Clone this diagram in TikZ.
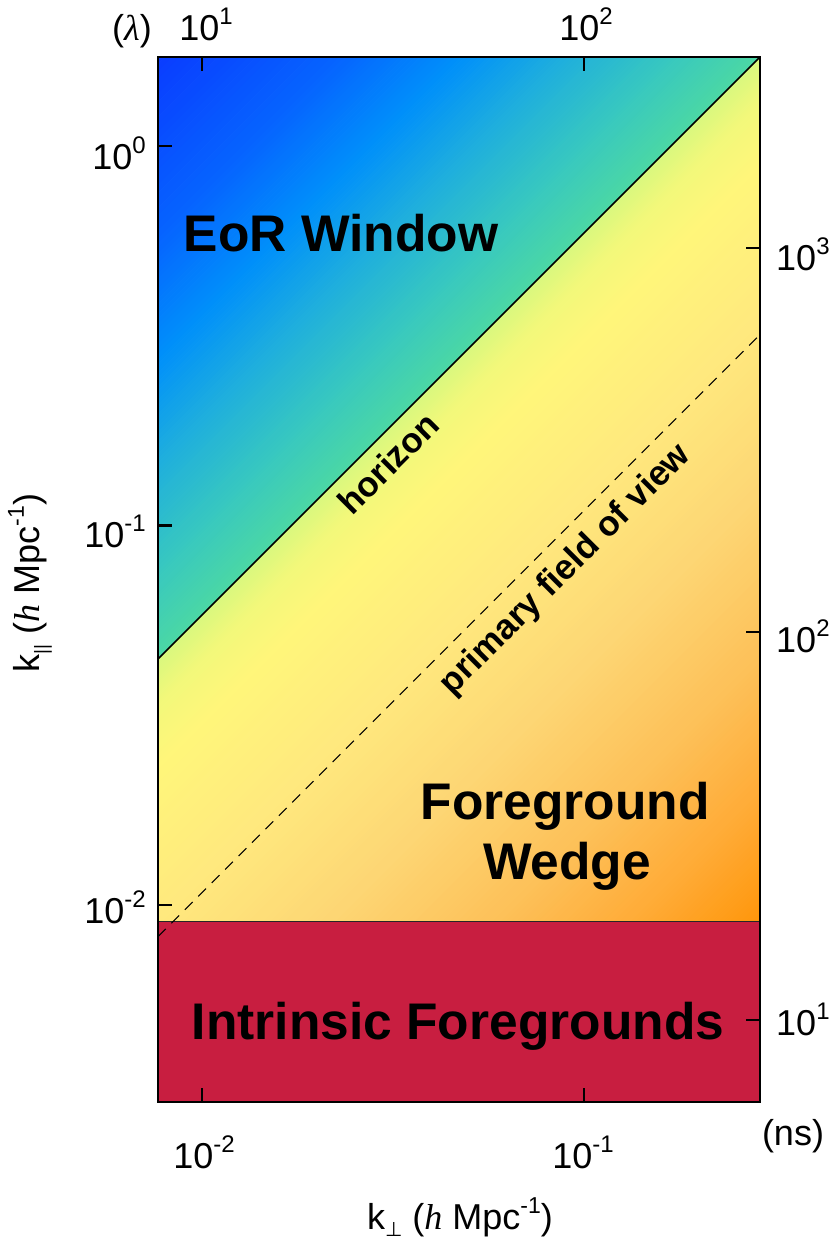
\documentclass[tikz,border=0pt]{standalone}
\usepackage{fontspec}
\setmainfont{Liberation Sans}
\newfontfamily\timesf{Liberation Serif}
\newfontfamily\dejavuf{DejaVu Sans}
\definecolor{redband}{HTML}{C81E40}
\definecolor{eA}{HTML}{0A3CFF}
\definecolor{eB}{HTML}{0664FF}
\definecolor{eC}{HTML}{0090FA}
\definecolor{eD}{HTML}{20B0DC}
\definecolor{eE}{HTML}{38C8C0}
\definecolor{eF}{HTML}{4CD8A4}
\definecolor{wA}{HTML}{D8F87E}
\definecolor{wB}{HTML}{F2F87A}
\definecolor{wC}{HTML}{FFF67A}
\definecolor{wD}{HTML}{FFE97E}
\definecolor{wE}{HTML}{FDD674}
\definecolor{wF}{HTML}{FDC058}
\definecolor{wG}{HTML}{FFAC38}
\definecolor{wH}{HTML}{FF960A}
\newcommand{\gseg}[4]{%
  \foreach \gi in {0,...,23}{%
    \pgfmathsetmacro{\gca}{#1+(#2-#1)*\gi/24}%
    \pgfmathsetmacro{\gcb}{#1+(#2-#1)*(\gi+1)/24+0.8}%
    \pgfmathtruncatemacro{\gpp}{100*(\gi+0.5)/24}%
    \colorlet{stripc}{#4!\gpp!#3}%
    \fill[stripc] ({\gca+1000},-1000) -- ({\gcb+1000},-1000) -- ({\gcb-2000},2000) -- ({\gca-2000},2000) -- cycle;
  }%
}
\newcommand{\pwr}[2]{#1\raisebox{16pt}{\fontsize{24}{24}\selectfont #2}}
\begin{document}
\begin{tikzpicture}[x=1pt,y=-1pt,
  reglab/.style={font=\fontsize{51.5}{58}\selectfont\bfseries, inner sep=0pt},
  diaglab/.style={font=\fontsize{35}{40}\selectfont\bfseries, inner sep=0pt, rotate=45},
  ticklab/.style={font=\fontsize{36}{40}\selectfont, inner sep=0pt},
  axtitle/.style={font=\fontsize{36}{40}\selectfont, inner sep=0pt},
  frameline/.style={line width=2pt},
  tickmark/.style={line width=2.5pt},
]
\fill[white] (0,0) rectangle (830,1240);
\coordinate (TL) at (158,57);
\coordinate (TR) at (760,57);
\coordinate (BR) at (760,1102);
\coordinate (BL) at (158,1102);
\coordinate (HL) at (158,659);
\coordinate (RL) at (158,921);
\coordinate (RR) at (760,921);
\coordinate (DL) at (158,936.7);
\coordinate (DR) at (760,334.7);
% EoR window gradient
\begin{scope}
\clip (TL) -- (TR) -- (HL) -- cycle;
\gseg{214}{396}{eA}{eB}
\gseg{396}{517}{eB}{eC}
\gseg{517}{625}{eC}{eD}
\gseg{625}{728}{eD}{eE}
\gseg{728}{819}{eE}{eF}
\end{scope}
% wedge gradient
\begin{scope}
\clip (HL) -- (TR) -- (RR) -- (RL) -- cycle;
\gseg{816}{861}{wA}{wB}
\gseg{861}{922}{wB}{wC}
\gseg{922}{1077}{wC}{wD}
\gseg{1077}{1250}{wD}{wE}
\gseg{1250}{1422}{wE}{wF}
\gseg{1422}{1552}{wF}{wG}
\gseg{1552}{1684}{wG}{wH}
\end{scope}
% intrinsic foregrounds band
\fill[redband] (RL) rectangle (BR);
\draw[line width=0.8pt, black!85] (RL) -- (RR);
% horizon and primary field of view
\draw[line width=1.6pt] (HL) -- (TR);
\draw[line width=1.1pt, dash pattern=on 11pt off 8pt] (DL) -- (DR);
% frame
\draw[frameline] (TL) rectangle (BR);
% ticks
\draw[tickmark] (158,146) -- (172,146);
\draw[tickmark] (158,525.5) -- (172,525.5);
\draw[tickmark] (158,905) -- (172,905);
\draw[tickmark] (760,248) -- (746,248);
\draw[tickmark] (760,632) -- (746,632);
\draw[tickmark] (760,1020) -- (746,1020);
\draw[tickmark] (202,57) -- (202,71);
\draw[tickmark] (584,57) -- (584,71);
\draw[tickmark] (202,1102) -- (202,1088);
\draw[tickmark] (584,1102) -- (584,1088);
% tick labels
\node[ticklab, anchor=base east] (l0) at (146,169) {\pwr{10}{0}};
\node[ticklab, anchor=base east] (l1) at (146,547) {\pwr{10}{-1}};
\node[ticklab, anchor=base east] (l2) at (146,923) {\pwr{10}{-2}};
\node[ticklab, anchor=base west] (r3) at (776,270) {\pwr{10}{3}};
\node[ticklab, anchor=base west] (r2) at (776,652) {\pwr{10}{2}};
\node[ticklab, anchor=base west] (r1) at (776,1035) {\pwr{10}{1}};
\node[ticklab, anchor=base] (t1) at (206,40) {\pwr{10}{1}};
\node[ticklab, anchor=base] (t2) at (586,40) {\pwr{10}{2}};
\node[ticklab, anchor=base east] (lam) at (152,40) {({\timesf\itshape λ})};
\node[ticklab, anchor=base] (b2) at (204,1168) {\pwr{10}{-2}};
\node[ticklab, anchor=base] (b1) at (583,1168) {\pwr{10}{-1}};
\node[ticklab, anchor=base] (ns) at (793,1145) {(ns)};
% axis titles
\node[axtitle] (xt) at (460,1217) {k\raisebox{-7pt}{\fontsize{20}{20}\selectfont\dejavuf ⊥} ({\timesf\itshape h} Mpc\raisebox{16pt}{\fontsize{23}{23}\selectfont -1})};
\node[axtitle, rotate=90] (yt) at (30,583) {k\raisebox{-8pt}{\fontsize{19}{19}\selectfont ||} ({\timesf\itshape h} Mpc\raisebox{16pt}{\fontsize{23}{23}\selectfont -1})};
% region labels
\node[reglab, anchor=base] (eor) at (341,251) {EoR Window};
\node[reglab, anchor=base] (fg1) at (565,819) {Foreground};
\node[reglab, anchor=base] (fg2) at (567,879) {Wedge};
\node[reglab, anchor=base] (ifg) at (458,1039) {Intrinsic Foregrounds};
\node[diaglab] (hor) at (388,463) {horizon};
\node[diaglab] (pfov) at (566,570) {primary field of view};
\end{tikzpicture}
\end{document}
